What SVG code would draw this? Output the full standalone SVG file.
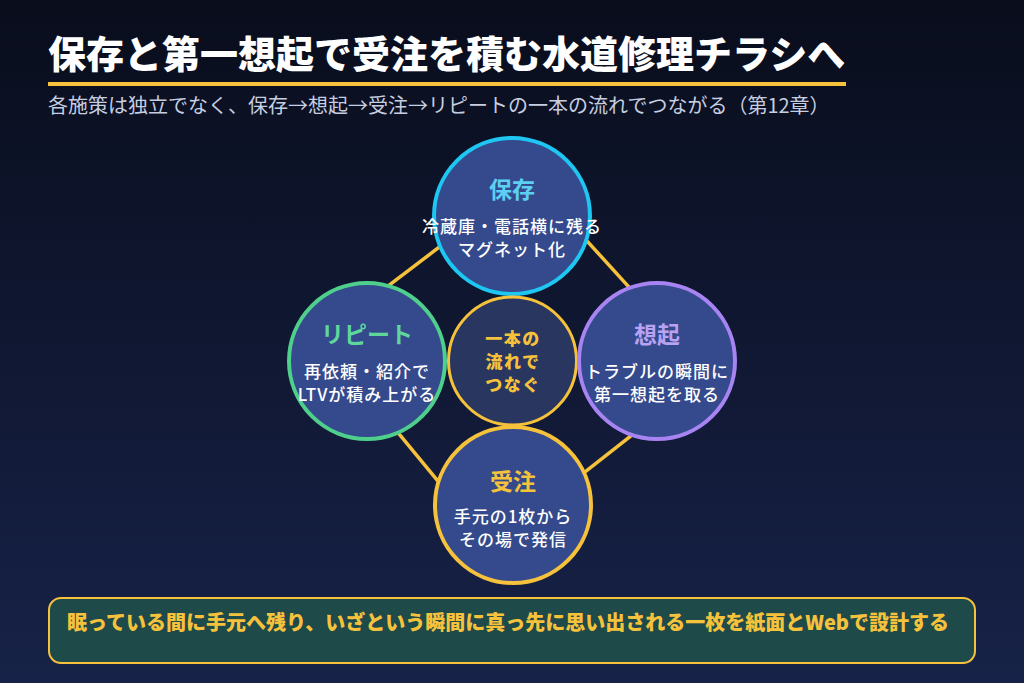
<svg xmlns="http://www.w3.org/2000/svg" width="1024" height="683" viewBox="0 0 1024 683">
<defs>
<linearGradient id="bg" x1="0" y1="0" x2="0" y2="1">
<stop offset="0" stop-color="#090d1c"/>
<stop offset="1" stop-color="#172248"/>
</linearGradient>
<style>
text{font-family:"Noto Sans CJK JP","Noto Sans",sans-serif;}
.title{font-size:38px;font-weight:900;fill:#ffffff;}
.sub{font-size:20px;fill:#c6cee0;}
.node{fill:#344a8c;stroke-width:4;}
.nt{font-size:23px;font-weight:700;text-anchor:middle;}
.nd{font-size:17px;font-weight:500;fill:#ffffff;text-anchor:middle;letter-spacing:1px;}
.ct{font-size:17px;font-weight:900;fill:#f6c23c;text-anchor:middle;letter-spacing:1.5px;}
.conn{stroke:#f6c23c;stroke-width:3.5;fill:none;}
.foot{font-size:20px;font-weight:900;fill:#f6c23c;}
</style>
</defs>
<rect width="1024" height="683" fill="url(#bg)"/>
<g id="header">
<text class="title" x="48" y="68">保存と第一想起で受注を積む水道修理チラシへ</text>
<rect x="48" y="82" width="798" height="4" fill="#f6c23c"/>
<text class="sub" x="48" y="113">各施策は独立でなく、保存→想起→受注→リピートの一本の流れでつながる（第12章）</text>
</g>
<g id="connectors">
<line class="conn" x1="444.4" y1="243.2" x2="385.6" y2="287.8"/>
<line class="conn" x1="582.6" y1="236.1" x2="632.4" y2="290.9"/>
<line class="conn" x1="394.9" y1="428.8" x2="442.1" y2="486.2"/>
<line class="conn" x1="578.7" y1="476.9" x2="638.3" y2="430.1"/>
</g>
<g id="node-hozon">
<circle class="node" cx="512" cy="216" r="78" stroke="#1ec6f2"/>
<text class="nt" x="512" y="198" fill="#5ccff2">保存</text>
<text class="nd" x="512" y="233">冷蔵庫・電話横に残る</text>
<text class="nd" x="512" y="256">マグネット化</text>
</g>
<g id="node-repeat">
<circle class="node" cx="367" cy="361" r="78" stroke="#4fcf8c"/>
<text class="nt" x="367" y="343" fill="#5fd69c">リピート</text>
<text class="nd" x="367" y="378">再依頼・紹介で</text>
<text class="nd" x="367" y="401">LTVが積み上がる</text>
</g>
<g id="node-center">
<circle cx="512.5" cy="361" r="64" fill="#283660" stroke="#f6c23c" stroke-width="3"/>
<text class="ct" x="513" y="345">一本の</text>
<text class="ct" x="513" y="368">流れで</text>
<text class="ct" x="513" y="391">つなぐ</text>
</g>
<g id="node-souki">
<circle class="node" cx="657" cy="361" r="78" stroke="#a784f2"/>
<text class="nt" x="657" y="343" fill="#b9a2f2">想起</text>
<text class="nd" x="657" y="378">トラブルの瞬間に</text>
<text class="nd" x="657" y="401">第一想起を取る</text>
</g>
<g id="node-juchu">
<circle class="node" cx="513" cy="505" r="78" stroke="#f6c23c"/>
<text class="nt" x="513" y="490" fill="#f6c23c">受注</text>
<text class="nd" x="513" y="523">手元の1枚から</text>
<text class="nd" x="513" y="546">その場で発信</text>
</g>
<g id="footer">
<rect x="49" y="598" width="926" height="65" rx="12" fill="#1f4a4a" stroke="#f6c23c" stroke-width="2"/>
<text class="foot" x="67" y="630">眠っている間に手元へ残り、いざという瞬間に真っ先に思い出される一枚を紙面とWebで設計する</text>
</g>
</svg>
